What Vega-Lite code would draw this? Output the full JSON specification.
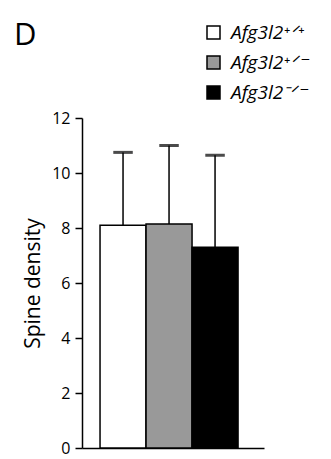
{
  "$schema": "https://vega.github.io/schema/vega-lite/v6.json",
  "autosize": "none",
  "width": 182,
  "height": 330,
  "padding": {"left": 82, "top": 118, "right": 67, "bottom": 11},
  "background": "white",
  "config": {"view": {"stroke": null}},
  "title": {"text": "D", "anchor": "start", "frame": "group", "fontSize": 31, "font": "Open Sans", "fontWeight": "normal", "color": "black", "dx": -68, "offset": 0, "dy": 29},
  "data": {"values": [
    {"genotype": "Afg3l2⁺ᐟ⁺", "value": 8.1, "top": 10.75},
    {"genotype": "Afg3l2⁺ᐟ⁻", "value": 8.15, "top": 11.0},
    {"genotype": "Afg3l2⁻ᐟ⁻", "value": 7.3, "top": 10.65}
  ]},
  "encoding": {
    "x": {"field": "genotype", "type": "nominal", "sort": null,
      "scale": {"paddingInner": 0, "paddingOuter": 0.478, "align": 0.41},
      "axis": {"labels": false, "ticks": false, "title": null, "domainColor": "black", "domainWidth": 1.5}}
  },
  "layer": [
    {"mark": {"type": "rule", "stroke": "black", "strokeWidth": 1.5},
      "encoding": {"y": {"field": "value", "type": "quantitative"}, "y2": {"field": "top"}}},
    {"mark": {"type": "tick", "stroke": "black", "strokeWidth": 1.5, "size": 18, "orient": "horizontal", "thickness": 1.5},
      "encoding": {"y": {"field": "top", "type": "quantitative"}}},
    {"mark": {"type": "bar", "stroke": "black", "strokeWidth": 1.5, "width": {"band": 1}},
      "encoding": {
        "y": {"field": "value", "type": "quantitative",
          "scale": {"domain": [0, 12], "nice": false},
          "axis": {"title": "Spine density", "titleFont": "Open Sans", "titleFontSize": 21, "titleFontWeight": "normal", "titleColor": "black", "titlePadding": 8,
            "values": [0, 2, 4, 6, 8, 10, 12], "grid": false, "labelFont": "Open Sans", "labelFontSize": 16, "labelColor": "black", "labelPadding": 5,
            "tickColor": "black", "tickWidth": 1.5, "tickSize": 7, "domainColor": "black", "domainWidth": 1.5}},
        "fill": {"field": "genotype", "type": "nominal", "sort": null,
          "scale": {"range": ["white", "#999999", "black"]},
          "legend": {"orient": "none", "legendX": 122, "legendY": -95, "title": null,
            "symbolType": "square", "symbolSize": 169, "symbolStrokeColor": "black", "symbolStrokeWidth": 1.5,
            "labelFont": "Open Sans", "labelFontStyle": "italic", "labelFontSize": 19, "labelColor": "black", "labelOffset": 8, "rowPadding": 10, "labelLimit": 200}}
      }}
  ]
}
